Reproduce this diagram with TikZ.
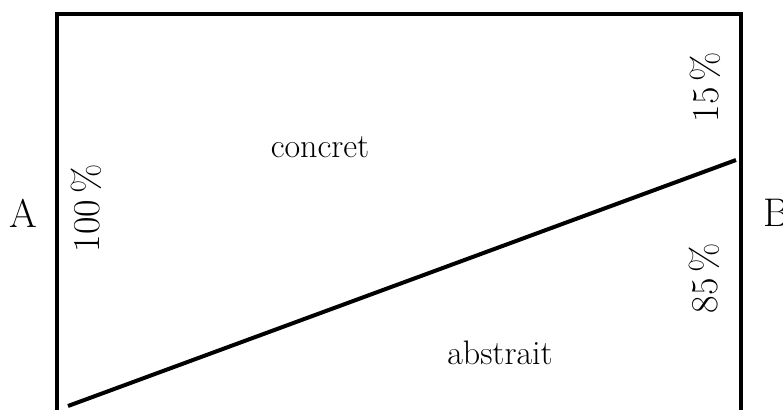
\documentclass[tikz,border=0pt]{standalone}
\usepackage{tikz}
\usetikzlibrary{positioning}

\begin{document}
\begin{tikzpicture}[x=0.5pt, y=-0.5pt, every node/.style={font=\fontsize{17}{20}\selectfont, inner sep=0pt}]
  \useasboundingbox (0,0) rectangle (783,409);
  \clip (0,0) rectangle (783,409);
  \coordinate (tl) at (57,14);
  \coordinate (tr) at (741,14);
  \coordinate (bl) at (57,420);
  \coordinate (br) at (741,420);
  \coordinate (lo) at (68,406);
  \coordinate (hi) at (736,160);
  \draw[line width=2pt] (bl) -- (tl) -- (tr) -- (br);
  \draw[line width=2pt] (lo) -- (hi);
  \node[font=\fontsize{20}{24}\selectfont] (a) at (23,213) {A};
  \node[font=\fontsize{20}{24}\selectfont] (b) at (777,213) {B};
  \node[rotate=90, font=\fontsize{19}{22}\selectfont] (full) at (86,208) {100\,\%};
  \node[rotate=90, font=\fontsize{19}{22}\selectfont] (top) at (705,87) {15\,\%};
  \node[rotate=90, font=\fontsize{19}{22}\selectfont] (bot) at (704,278) {85\,\%};
  \node (concret) at (320,147) {concret};
  \node (abstrait) at (500,353) {abstrait};
\end{tikzpicture}
\end{document}
